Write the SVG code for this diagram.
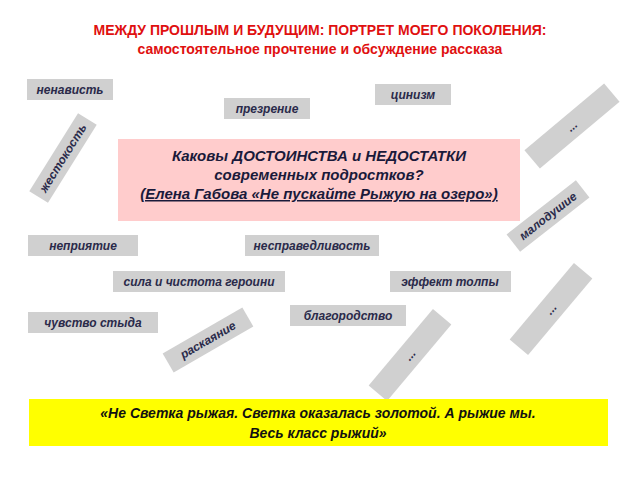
<svg xmlns="http://www.w3.org/2000/svg" width="640" height="480" viewBox="0 0 640 480">
<style>
.b{fill:#d0d0d0}
.t{font-family:"Liberation Sans",Arial,sans-serif;font-size:12px;font-style:italic;font-weight:bold;fill:#2a2a4a;text-anchor:middle}
.h{font-family:"Liberation Sans",Arial,sans-serif;font-size:14px;font-weight:bold;fill:#e01010;text-anchor:middle}
.q{font-family:"Liberation Sans",Arial,sans-serif;font-size:15px;font-style:italic;font-weight:bold;fill:#1a1a3a;text-anchor:middle}
.y{font-family:"Liberation Sans",Arial,sans-serif;font-size:14px;font-style:italic;font-weight:bold;fill:#111;text-anchor:middle}
</style>
<rect width="640" height="480" fill="#fff"/>
<text class="h" x="320" y="35">МЕЖДУ ПРОШЛЫМ И БУДУЩИМ: ПОРТРЕТ МОЕГО ПОКОЛЕНИЯ:</text>
<text class="h" x="320" y="54">самостоятельное прочтение и обсуждение рассказа</text>
<g id="n1"><rect class="b" x="27" y="79" width="86" height="21"/><text class="t" x="70" y="94">ненависть</text></g>
<g id="n2"><rect class="b" x="375" y="84" width="76" height="21"/><text class="t" x="413" y="99">цинизм</text></g>
<g id="n3"><rect class="b" x="224" y="98" width="86" height="21"/><text class="t" x="267" y="113">презрение</text></g>
<g id="center"><rect x="118" y="139" width="402" height="82" fill="#ffcccc"/>
<text class="q" x="319" y="161">Каковы ДОСТОИНСТВА и НЕДОСТАТКИ</text>
<text class="q" x="319" y="180">современных подростков?</text>
<text class="q" x="319" y="199" text-decoration="underline">(Елена Габова «Не пускайте Рыжую на озеро»)</text></g>
<g id="n4"><rect class="b" x="28" y="235" width="110" height="21"/><text class="t" x="83" y="250">неприятие</text></g>
<g id="n5"><rect class="b" x="245" y="235" width="134" height="21"/><text class="t" x="312" y="250">несправедливость</text></g>
<g id="n6"><rect class="b" x="113" y="271" width="172" height="21"/><text class="t" x="199" y="286">сила и чистота героини</text></g>
<g id="n7"><rect class="b" x="390" y="271" width="121" height="21"/><text class="t" x="450" y="286">эффект толпы</text></g>
<g id="n8"><rect class="b" x="290" y="305" width="116" height="21"/><text class="t" x="348" y="320">благородство</text></g>
<g id="n9"><rect class="b" x="28" y="312" width="130" height="21"/><text class="t" x="93" y="327">чувство стыда</text></g>
<g id="r1" transform="translate(63,158) rotate(-58)"><rect class="b" x="-46" y="-11" width="92" height="22"/><text class="t" x="0" y="4">жестокость</text></g>
<g id="r2" transform="translate(572,126) rotate(-40)"><rect class="b" x="-52" y="-12" width="104" height="24"/><text class="t" x="0" y="4">...</text></g>
<g id="r3" transform="translate(548,216) rotate(-38)"><rect class="b" x="-44" y="-11" width="88" height="22"/><text class="t" x="0" y="4">малодушие</text></g>
<g id="r4" transform="translate(551,309) rotate(-50)"><rect class="b" x="-50" y="-12" width="100" height="24"/><text class="t" x="0" y="4">...</text></g>
<g id="r5" transform="translate(410,355) rotate(-50)"><rect class="b" x="-50" y="-12" width="100" height="24"/><text class="t" x="0" y="4">...</text></g>
<g id="r6" transform="translate(208,340) rotate(-30)"><rect class="b" x="-46" y="-11" width="92" height="22"/><text class="t" x="0" y="4">раскаяние</text></g>
<g id="quote"><rect x="29" y="399" width="579" height="47" fill="#ffff00"/>
<text class="y" x="318" y="418">«Не Светка рыжая. Светка оказалась золотой. А рыжие мы.</text>
<text class="y" x="318" y="438">Весь класс рыжий»</text></g>
<g id="connectors"/>
</svg>
